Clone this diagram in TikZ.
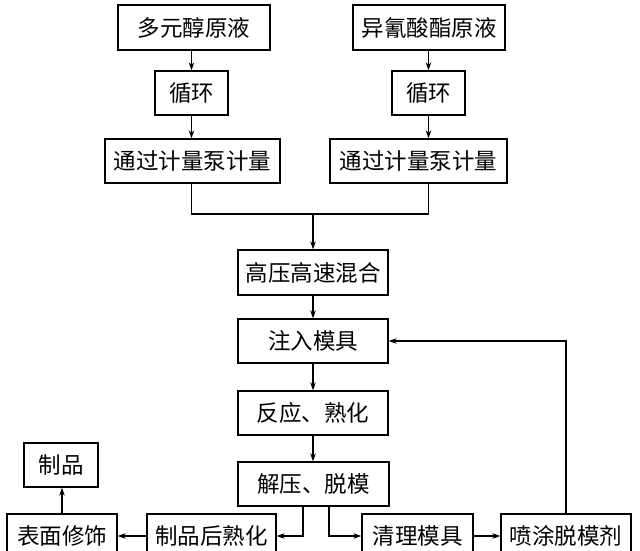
\documentclass[tikz,border=0pt]{standalone}
\usepackage{fontspec}
\newfontfamily\cjk{Noto Sans CJK SC}
\usetikzlibrary{arrows.meta}
\begin{document}
\begin{tikzpicture}[x=1pt,y=-1pt,
  box/.style={draw,line width=1.3pt,rectangle,inner sep=0pt,font=\cjk\fontsize{22.5}{22.5}\selectfont},
  arr/.style={line width=1.3pt,-{Stealth[length=8pt,width=5.5pt]}},
  ln/.style={line width=1.3pt}]
\useasboundingbox[fill=white] (0,0) rectangle (640,551);
% left column
\node[box,minimum width=152,minimum height=45] (A1) at (194,27.5) {多元醇原液};
\node[box,minimum width=73,minimum height=44] (A2) at (191.5,93) {循环};
\node[box,minimum width=175,minimum height=44] (A3) at (192.5,161) {通过计量泵计量};
% right column
\node[box,minimum width=152,minimum height=45] (B1) at (429,27.5) {异氰酸酯原液};
\node[box,minimum width=73,minimum height=44] (B2) at (428.5,93) {循环};
\node[box,minimum width=177,minimum height=44] (B3) at (418.5,161) {通过计量泵计量};
% main column
\node[box,minimum width=150,minimum height=45] (M) at (313,272.5) {高压高速混合};
\node[box,minimum width=150,minimum height=44] (C) at (313,341) {注入模具};
\node[box,minimum width=150,minimum height=44] (D) at (313,413) {反应、熟化};
\node[box,minimum width=151,minimum height=44] (E) at (313.5,484) {解压、脱模};
% bottom row
\node[box,minimum width=129,minimum height=44] (F) at (211.5,536) {制品后熟化};
\node[box,minimum width=110,minimum height=44] (G) at (62,536) {表面修饰};
\node[box,minimum width=74,minimum height=44] (H) at (61,465) {制品};
\node[box,minimum width=111,minimum height=44] (I) at (417.5,536) {清理模具};
\node[box,minimum width=130,minimum height=44] (J) at (566,536) {喷涂脱模剂};
% connectors
\draw[arr] (A1.south -| A2.north) -- (A2.north);
\draw[arr] (A2.south) -- (A2.south |- A3.north);
\draw[arr] (B1.south -| B2.north) -- (B2.north);
\draw[arr] (B2.south) -- (B2.south |- B3.north);
\coordinate (mj) at (313,214);
\draw[ln] (A3.south -| A2.south) |- (mj) -| (B3.south -| B2.south);
\draw[arr] (mj) -- (M.north);
\draw[arr] (M.south) -- (C.north);
\draw[arr] (C.south) -- (D.north);
\draw[arr] (D.south) -- (D.south |- E.north);
\coordinate (eL) at (303,506);
\coordinate (eR) at (329,506);
\draw[arr] (eL) |- (F.east);
\draw[arr] (eR) |- (I.west);
\draw[arr] (F.west) -- (G.east);
\draw[arr] (I.east) -- (J.west);
\draw[arr] (G.north) -- (G.north |- H.south);
\draw[arr] (J.north) |- (C.east);
\end{tikzpicture}
\end{document}
